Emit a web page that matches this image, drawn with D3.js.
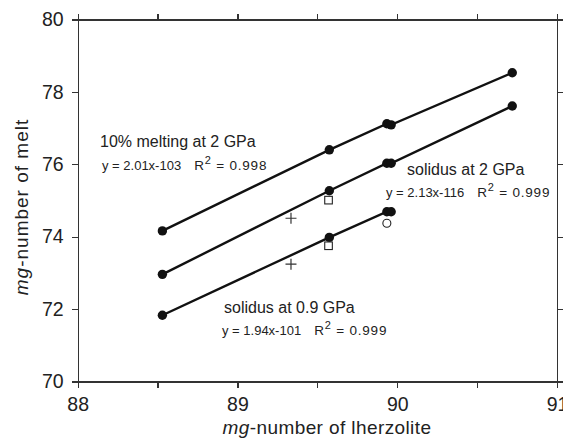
<!DOCTYPE html>
<head>
    <meta charset="utf-8" />
    <title>mg-number of melt vs lherzolite</title>
</head>
<style>
    body {
        margin: 0;
        background-color: #ffffff;
    }

    text {
        font-family: "Liberation Sans", Arial, sans-serif;
        fill: #222;
    }

    .axis path,
    .axis line {
        fill: none;
        stroke: #333;
        stroke-width: 1.2px;
        shape-rendering: crispEdges;
    }

    .fit {
        fill: none;
        stroke: #111;
        stroke-width: 2.4px;
    }
</style>
<body>
    <svg id="chart" width="563" height="443"></svg>
    <script src="https://d3js.org/d3.v7.min.js"></script>
    <script>
        // data
        var melting2Lherz = [88.53, 89.575, 89.935, 89.962, 90.72];
        var melting2Melt = [74.16, 76.40, 77.12, 77.09, 78.53];

        var solidus2Lherz = [88.53, 89.575, 89.935, 89.962, 90.72];
        var solidus2Melt = [72.96, 75.27, 76.03, 76.03, 77.61];

        var solidus09Lherz = [88.53, 89.575, 89.935, 89.962];
        var solidus09Melt = [71.83, 73.98, 74.69, 74.69];

        var squareLherz = [89.57, 89.57];
        var squareMelt = [75.01, 73.75];

        var plusLherz = [89.335, 89.335];
        var plusMelt = [74.51, 73.24];

        var circleLherz = [89.935];
        var circleMelt = [74.37];

        var xTicks = [88, 89, 90, 91];
        var xMinor = [88.5, 89.5, 90.5];
        var yTicks = [70, 72, 74, 76, 78, 80];

        function zip(xs, ys) {
            return xs.map(function(d, i) {
                return { x: d, y: ys[i] };
            });
        }

        var series = [
            zip(melting2Lherz, melting2Melt),
            zip(solidus2Lherz, solidus2Melt),
            zip(solidus09Lherz, solidus09Melt)
        ];

        var margin = { top: 19.5, right: 6, bottom: 61.5, left: 77.7 };
        var width = 563 - margin.left - margin.right,
            height = 443 - margin.top - margin.bottom;

        var svg = d3.select("#chart");
        var g = svg.append("g")
            .attr("transform", "translate(" + margin.left + "," + margin.top + ")");

        var x = d3.scaleLinear().domain([88, 91]).range([0, width]);
        var y = d3.scaleLinear().domain([70, 80]).range([height, 0]);

        // axes, ticks pointing outwards on all four sides
        var allX = xTicks.concat(xMinor);

        g.append("g")
            .attr("class", "axis")
            .attr("transform", "translate(0," + height + ")")
            .call(d3.axisBottom(x).tickValues(allX).tickSizeOuter(0).tickSize(6)
                .tickFormat(function(d) { return xTicks.indexOf(d) >= 0 ? d : ""; }))
            .selectAll("text")
            .attr("font-size", "19.5px")
            .attr("dy", "1.05em");

        g.append("g")
            .attr("class", "axis")
            .call(d3.axisTop(x).tickValues(allX).tickSizeOuter(0).tickSize(6).tickFormat(""));

        g.append("g")
            .attr("class", "axis")
            .call(d3.axisLeft(y).tickValues(yTicks).tickSizeOuter(0).tickSize(6))
            .selectAll("text")
            .attr("font-size", "19.5px")
            .attr("x", -14);

        g.append("g")
            .attr("class", "axis")
            .attr("transform", "translate(" + width + ",0)")
            .call(d3.axisRight(y).tickValues(yTicks).tickSizeOuter(0).tickSize(6).tickFormat(""));

        g.selectAll(".axis text").style("font-family", "'Liberation Sans', Arial, sans-serif").attr("fill", "#222");

        // fit lines
        var line = d3.line()
            .x(function(d) { return x(d.x); })
            .y(function(d) { return y(d.y); });

        g.selectAll(".fit")
            .data(series)
            .enter().append("path")
            .attr("class", "fit")
            .attr("d", line);

        // filled dots
        g.selectAll(".dot")
            .data(d3.merge(series))
            .enter().append("circle")
            .attr("class", "dot")
            .attr("cx", function(d) { return x(d.x); })
            .attr("cy", function(d) { return y(d.y); })
            .attr("r", 4.7)
            .attr("fill", "#111");

        // open squares
        g.selectAll(".sq")
            .data(zip(squareLherz, squareMelt))
            .enter().append("rect")
            .attr("class", "sq")
            .attr("x", function(d) { return x(d.x) - 3.8; })
            .attr("y", function(d) { return y(d.y) - 3.8; })
            .attr("width", 7.6)
            .attr("height", 7.6)
            .attr("fill", "#fff")
            .attr("stroke", "#222")
            .attr("stroke-width", 1.1);

        // plus marks
        g.selectAll(".plus")
            .data(zip(plusLherz, plusMelt))
            .enter().append("path")
            .attr("class", "plus")
            .attr("d", function(d) {
                var cx = x(d.x), cy = y(d.y);
                return "M" + (cx - 5.5) + "," + cy + "H" + (cx + 5.5) +
                    "M" + cx + "," + (cy - 5.5) + "V" + (cy + 5.5);
            })
            .attr("stroke", "#333")
            .attr("stroke-width", 1.2)
            .attr("fill", "none");

        // open circles
        g.selectAll(".ring")
            .data(zip(circleLherz, circleMelt))
            .enter().append("circle")
            .attr("class", "ring")
            .attr("cx", function(d) { return x(d.x); })
            .attr("cy", function(d) { return y(d.y); })
            .attr("r", 4)
            .attr("fill", "#fff")
            .attr("stroke", "#222")
            .attr("stroke-width", 1.1);

        // annotations
        function label(px, py, txt) {
            svg.append("text")
                .attr("x", px)
                .attr("y", py)
                .attr("font-size", "16px")
                .text(txt);
        }

        function equation(px, py, a, b) {
            var t = svg.append("text")
                .attr("x", px)
                .attr("y", py)
                .attr("font-size", "13px");
            t.append("tspan").text(a);
            var r = t.append("tspan").attr("dx", 13).attr("font-size", "13.5px").attr("letter-spacing", "0.8px");
            r.append("tspan").text("R");
            r.append("tspan").attr("dy", -6).attr("font-size", "11px").text("2");
            r.append("tspan").attr("dy", 6).text(" = " + b);
        }

        label(100, 147, "10% melting at 2 GPa");
        equation(102, 170, "y = 2.01x-103", "0.998");

        label(407, 175, "solidus at 2 GPa");
        equation(386, 197, "y = 2.13x-116", "0.999");

        label(224, 313, "solidus at 0.9 GPa");
        equation(222, 335, "y = 1.94x-101", "0.999");

        // axis titles
        var xt = svg.append("text")
            .attr("x", 327)
            .attr("y", 434)
            .attr("font-size", "19px")
            .attr("letter-spacing", "0.4px")
            .attr("text-anchor", "middle");
        xt.append("tspan").attr("font-style", "italic").text("mg");
        xt.append("tspan").text("-number of lherzolite");

        var yt = svg.append("text")
            .attr("transform", "translate(28,207) rotate(-90)")
            .attr("font-size", "19px")
            .attr("letter-spacing", "1px")
            .attr("text-anchor", "middle");
        yt.append("tspan").attr("font-style", "italic").text("mg");
        yt.append("tspan").text("-number of melt");
    </script>
</body>
